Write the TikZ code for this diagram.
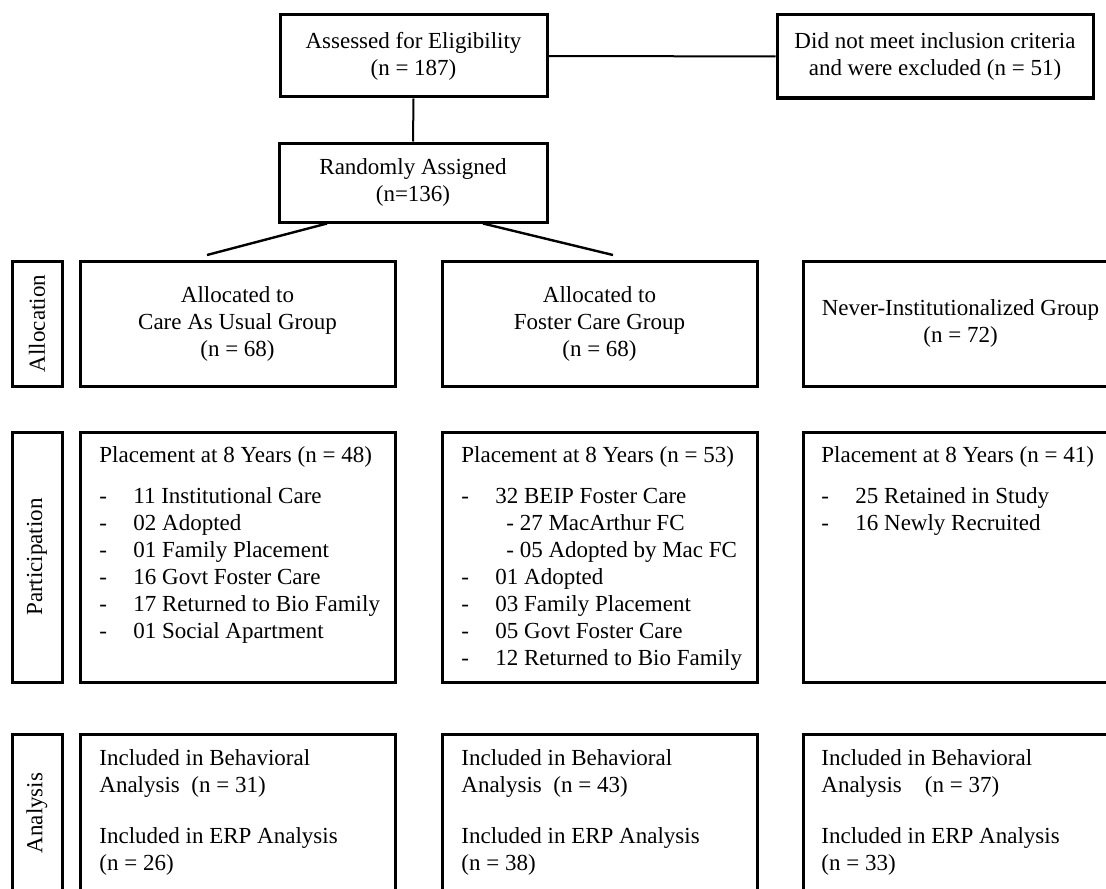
\documentclass[tikz,border=0pt]{standalone}
\usepackage{fontspec}
\setmainfont{Liberation Serif}
\usepackage{tikz}
\usetikzlibrary{positioning}

\newcommand{\itm}[1]{\makebox[17pt][l]{-}#1}
\newcommand{\subitm}[1]{\hspace*{22.5pt}- #1}

\begin{document}
\begin{tikzpicture}[x=0.5pt,y=-0.5pt,
  every node/.style={font=\fontsize{11.5}{13.5}\selectfont},
  box/.style={draw, line width=1.5pt, align=center, inner sep=0pt},
  colbox/.style={box, minimum width=157.5pt},
  labbox/.style={box, minimum width=25pt},
  listtext/.style={anchor=north west, align=left, inner sep=0pt},
  link/.style={line width=1pt},
  split/.style={line width=1.2pt}]

  \clip (0,0) rectangle (1106,888);

  % Nodes
  \node[box, minimum width=133.5pt, minimum height=41pt] (assess) at (413.5,56)
    {Assessed for Eligibility\\(n = 187)};
  \node[box, minimum width=158pt, minimum height=41.5pt] (excl) at (935,56.5)
    {Did not meet inclusion criteria\\and were excluded (n = 51)};
  \node[box, minimum width=134pt, minimum height=39.5pt] (rand) at (413,182.5)
    {Randomly Assigned\\(n=136)};

  % Allocation row
  \node[labbox, minimum height=62.5pt] (alloclab) at (37,323.5) {\rotatebox{90}{Allocation}};
  \node[colbox, minimum height=62.5pt] (cau) at (237.5,323.5)
    {Allocated to\\Care As Usual Group\\(n = 68)};
  \node[colbox, minimum height=62.5pt] (fc) at (599.5,323.5)
    {Allocated to\\Foster Care Group\\(n = 68)};
  \node[colbox, minimum height=62.5pt] (nig) at (960.5,323.5)
    {Never-Institutionalized Group\\(n = 72)};

  % Participation row
  \node[labbox, minimum height=125pt] (partlab) at (37,557) {\rotatebox{90}{Participation}};
  \node[colbox, minimum height=125pt] (caupart) at (237.5,557) {};
  \node[colbox, minimum height=125pt] (fcpart) at (599.5,557) {};
  \node[colbox, minimum height=125pt] (nigpart) at (960.5,557) {};

  \node[listtext] (cauplace) at (99,446) {Placement at 8 Years (n = 48)\\[7pt]
    \itm{11 Institutional Care}\\
    \itm{02 Adopted}\\
    \itm{01 Family Placement}\\
    \itm{16 Govt Foster Care}\\
    \itm{17 Returned to Bio Family}\\
    \itm{01 Social Apartment}};
  \node[listtext] (fcplace) at (461,446) {Placement at 8 Years (n = 53)\\[7pt]
    \itm{32 BEIP Foster Care}\\
    \subitm{27 MacArthur FC}\\
    \subitm{05 Adopted by Mac FC}\\
    \itm{01 Adopted}\\
    \itm{03 Family Placement}\\
    \itm{05 Govt Foster Care}\\
    \itm{12 Returned to Bio Family}};
  \node[listtext] (nigplace) at (821,446) {Placement at 8 Years (n = 41)\\[7pt]
    \itm{25 Retained in Study}\\
    \itm{16 Newly Recruited}};

  % Analysis row
  \node[labbox, minimum height=79pt] (anallab) at (37,813) {\rotatebox{90}{Analysis}};
  \node[colbox, minimum height=79pt] (cauanal) at (237.5,813) {};
  \node[colbox, minimum height=79pt] (fcanal) at (599.5,813) {};
  \node[colbox, minimum height=79pt] (niganal) at (960.5,813) {};

  \node[listtext] (caures) at (99,749) {Included in Behavioral\\
    Analysis\ \ (n = 31)\\[12pt]
    Included in ERP Analysis\\(n = 26)};
  \node[listtext] (fcres) at (461,749) {Included in Behavioral\\
    Analysis\ \ (n = 43)\\[12pt]
    Included in ERP Analysis\\(n = 38)};
  \node[listtext] (nigres) at (821,749) {Included in Behavioral\\
    Analysis\ \ \ \ (n = 37)\\[12pt]
    Included in ERP Analysis\\(n = 33)};

  % Connectors
  \coordinate (cauend) at (207,255);
  \coordinate (fcend) at (613,255);
  \draw[link] (assess) -- (excl);
  \draw[link] (assess.south) -- (rand.north);
  \draw[split] ([xshift=-43pt]rand.south) -- (cauend);
  \draw[split] ([xshift=35pt]rand.south) -- (fcend);

\end{tikzpicture}
\end{document}
